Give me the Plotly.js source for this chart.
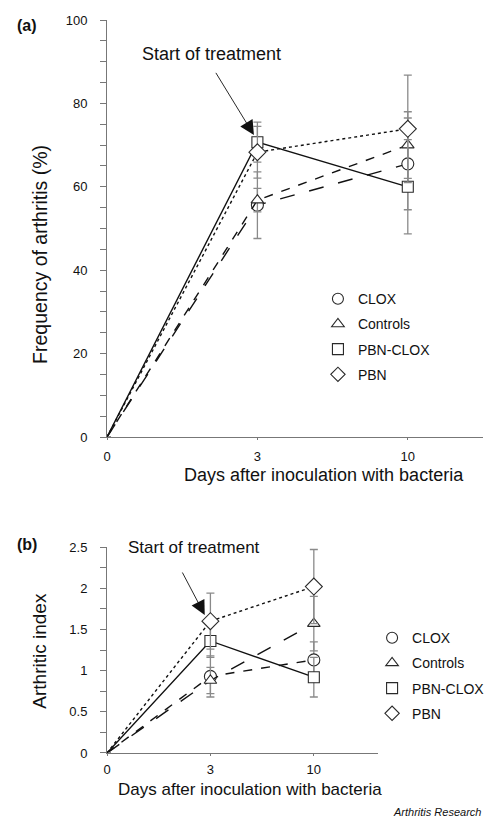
<!DOCTYPE html>
<html>
<head>
<meta charset="utf-8">
<script src="https://cdn.plot.ly/plotly-3.0.1.min.js"></script>
<style>
  html, body { margin: 0; padding: 0; background: #fff; }
  #chart { width: 500px; height: 825px; }
</style>
</head>
<body>
<div id="chart"></div>
<script>
// ---- data ----
const dayLabels = ['0', '3', '10'];
const dayPos = [0, 1, 2];
const seriesNames = ['CLOX', 'Controls', 'PBN-CLOX', 'PBN'];

// Panel (a): frequency of arthritis (%)
const cloxA = [0, 55.6, 65.5];
const cloxAErr = [null, 8, 11];
const controlsA = [0, 56.8, 70];
const controlsAErr = [null, 2.8, 8];
const pbnCloxA = [0, 70.7, 60];
const pbnCloxAErr = [null, 4.8, 11.3];
const pbnA = [0, 68.3, 73.9];
const pbnAErr = [null, 6.2, 12.9];

// Panel (b): arthritic index
const cloxB = [0, 0.93, 1.13];
const cloxBErr = [null, 0.25, 0.22];
const controlsB = [0, 0.88, 1.57];
const controlsBErr = [null, 0.16, 0.33];
const pbnCloxB = [0, 1.36, 0.92];
const pbnCloxBErr = [null, 0.2, 0.24];
const pbnB = [0, 1.6, 2.02];
const pbnBErr = [null, 0.34, 0.45];

// ---- styles ----
const FONT = '"Liberation Sans", Arial, Helvetica, sans-serif';
const symbols = {CLOX: 'circle', Controls: 'triangle-up', 'PBN-CLOX': 'square', PBN: 'diamond'};
const msize = {CLOX: 12, Controls: 11, 'PBN-CLOX': 11, PBN: 13};
const markerLine = '#2a2a2a';
const errColor = '#8a8a8a';

function series(name, ys, errs, dash, xa, ya) {
  const sizes = ys.map((v, i) => i === 0 ? 0 : msize[name]);
  return {
    x: dayPos, y: ys, xaxis: xa, yaxis: ya,
    type: 'scatter', mode: 'lines+markers', name: name, showlegend: false,
    line: {color: '#111', width: 1.4, dash: dash},
    marker: {symbol: symbols[name], size: sizes, color: '#fff', opacity: 1,
             line: {color: markerLine, width: 1.1}},
    error_y: {type: 'data', array: errs, visible: true, color: errColor, thickness: 1.3, width: 4},
    cliponaxis: false
  };
}
function legendEntry(name, legendId) {
  return {
    x: [null], y: [null], type: 'scatter', mode: 'markers', name: name,
    legend: legendId, legendgroup: legendId + name, showlegend: true,
    xaxis: legendId === 'legend' ? 'x' : 'x2', yaxis: legendId === 'legend' ? 'y' : 'y2',
    marker: {symbol: symbols[name], size: 11, color: '#fff',
             line: {color: markerLine, width: 1.1}}
  };
}

const traces = [
  series('CLOX', cloxA, cloxAErr, 'longdash', 'x', 'y'),
  series('Controls', controlsA, controlsAErr, 'dash', 'x', 'y'),
  series('PBN-CLOX', pbnCloxA, pbnCloxAErr, 'solid', 'x', 'y'),
  series('PBN', pbnA, pbnAErr, 'dot', 'x', 'y'),
  series('CLOX', cloxB, cloxBErr, 'dash', 'x2', 'y2'),
  series('Controls', controlsB, controlsBErr, 'longdash', 'x2', 'y2'),
  series('PBN-CLOX', pbnCloxB, pbnCloxBErr, 'solid', 'x2', 'y2'),
  series('PBN', pbnB, pbnBErr, 'dot', 'x2', 'y2')
];
seriesNames.forEach(n => traces.push(legendEntry(n, 'legend')));
seriesNames.forEach(n => traces.push(legendEntry(n, 'legend2')));

const axisCommon = {
  showgrid: false, zeroline: false, showline: true, linecolor: '#777', linewidth: 1,
  tickfont: {family: FONT, size: 13, color: '#111'}, fixedrange: true
};
const legendCommon = {
  font: {family: FONT, size: 14, color: '#111'}, bgcolor: 'rgba(0,0,0,0)',
  traceorder: 'grouped', tracegroupgap: 4, xanchor: 'left', yanchor: 'top',
  itemclick: false
};

const layout = {
  width: 500, height: 825,
  margin: {l: 107, r: 10, t: 20, b: 72},
  paper_bgcolor: '#fff', plot_bgcolor: '#fff',
  font: {family: FONT, color: '#111'},
  xaxis: Object.assign({}, axisCommon, {
    domain: [0, 1], range: [0, 2.5], anchor: 'y',
    tickmode: 'array', tickvals: dayPos, ticktext: dayLabels,
    ticks: 'outside', ticklen: 2, tickcolor: '#777', ticklabelstandoff: 5
  }),
  yaxis: Object.assign({}, axisCommon, {
    domain: [0.4311, 1], range: [0, 100], anchor: 'x',
    tickmode: 'linear', tick0: 0, dtick: 20,
    ticks: 'outside', ticklen: 6, tickcolor: '#777', ticklabelstandoff: 10,
    minor: {dtick: 5, ticks: 'outside', ticklen: 6, tickcolor: '#777'}
  }),
  xaxis2: Object.assign({}, axisCommon, {
    domain: [0, 0.7206], range: [0, 2.62], anchor: 'y2',
    tickmode: 'array', tickvals: dayPos, ticktext: dayLabels,
    ticks: 'outside', ticklen: 2, tickcolor: '#777', ticklabelstandoff: 2
  }),
  yaxis2: Object.assign({}, axisCommon, {
    domain: [0, 0.2810], range: [0, 2.5], anchor: 'x2',
    tickmode: 'linear', tick0: 0, dtick: 0.5,
    ticks: 'outside', ticklen: 6, tickcolor: '#777', ticklabelstandoff: 10,
    minor: {dtick: 0.25, ticks: 'outside', ticklen: 6, tickcolor: '#777'}
  }),
  legend: Object.assign({}, legendCommon, {x: 0.561, y: 0.641}),
  legend2: Object.assign({}, legendCommon, {x: 0.705, y: 0.1786}),
  annotations: [
    // panel labels
    {text: '<b>(a)</b>', xref: 'paper', yref: 'paper', x: -0.2115, y: 0.993, xanchor: 'center', yanchor: 'middle',
     showarrow: false, font: {family: FONT, size: 16, color: '#111'}},
    {text: '<b>(b)</b>', xref: 'paper', yref: 'paper', x: -0.2115, y: 0.285, xanchor: 'center', yanchor: 'middle',
     showarrow: false, font: {family: FONT, size: 16, color: '#111'}},
    // axis titles
    {text: 'Frequency of arthritis (%)', xref: 'paper', yref: 'paper', x: -0.18, y: 0.68, textangle: -90,
     xanchor: 'center', yanchor: 'middle', showarrow: false, font: {family: FONT, size: 19.5, color: '#111'}},
    {text: 'Days after inoculation with bacteria', xref: 'paper', yref: 'paper', x: 0.577, y: 0.379,
     xanchor: 'center', yanchor: 'middle', showarrow: false, font: {family: FONT, size: 18, color: '#111'}},
    {text: 'Arthritic index', xref: 'paper', yref: 'paper', x: -0.18, y: 0.14, textangle: -90,
     xanchor: 'center', yanchor: 'middle', showarrow: false, font: {family: FONT, size: 19, color: '#111'}},
    {text: 'Days after inoculation with bacteria', xref: 'paper', yref: 'paper', x: 0.381, y: -0.050,
     xanchor: 'center', yanchor: 'middle', showarrow: false, font: {family: FONT, size: 17, color: '#111'}},
    // Start of treatment (a)
    {text: 'Start of treatment', xref: 'x', yref: 'y', x: 0.695, y: 91.8, showarrow: false,
     xanchor: 'center', yanchor: 'middle', font: {family: FONT, size: 18, color: '#111'}},
    {text: ' ', xref: 'x', yref: 'y', x: 0.977, y: 72.4, axref: 'x', ayref: 'y', ax: 0.704, ay: 88.5,
     showarrow: true, arrowhead: 2, arrowsize: 3.2, arrowwidth: 0.9, arrowcolor: '#111', standoff: 0},
    // Start of treatment (b)
    {text: 'Start of treatment', xref: 'x2', yref: 'y2', x: 0.844, y: 2.49, showarrow: false,
     xanchor: 'center', yanchor: 'middle', font: {family: FONT, size: 17, color: '#111'}},
    {text: ' ', xref: 'x2', yref: 'y2', x: 0.945, y: 1.675, axref: 'x2', ayref: 'y2', ax: 0.70, ay: 2.26,
     showarrow: true, arrowhead: 2, arrowsize: 3.2, arrowwidth: 0.9, arrowcolor: '#111', standoff: 0},
    // source
    {text: '<i>Arthritis Research</i>', xref: 'paper', yref: 'paper', x: 1.0, y: -0.08,
     xanchor: 'right', yanchor: 'middle', showarrow: false, font: {family: FONT, size: 11, color: '#111'}}
  ]
};

Plotly.newPlot('chart', traces, layout, {staticPlot: true, displayModeBar: false});
</script>
</body>
</html>
